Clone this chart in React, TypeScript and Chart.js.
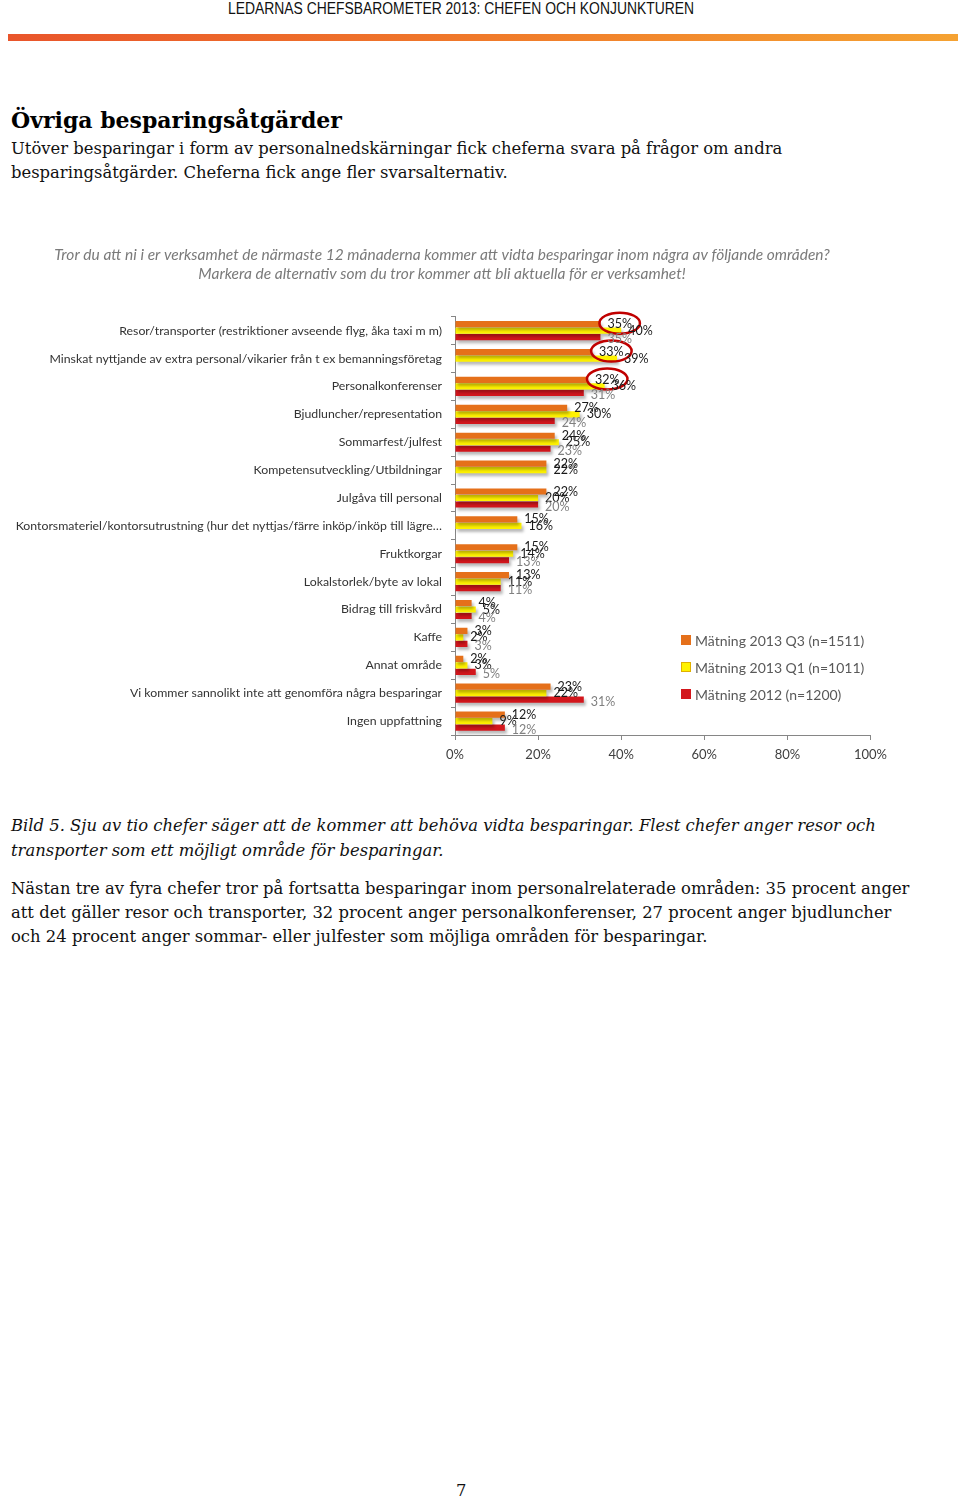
import React, { useEffect, useRef } from "react";
import { Chart, registerables } from "chart.js";

Chart.register(...registerables);

const categories = [
  "Resor/transporter (restriktioner avseende flyg, åka taxi m m)",
  "Minskat nyttjande av extra personal/vikarier från t ex bemanningsföretag",
  "Personalkonferenser",
  "Bjudluncher/representation",
  "Sommarfest/julfest",
  "Kompetensutveckling/Utbildningar",
  "Julgåva till personal",
  "Kontorsmateriel/kontorsutrustning (hur det nyttjas/färre inköp/inköp till lägre…",
  "Fruktkorgar",
  "Lokalstorlek/byte av lokal",
  "Bidrag till friskvård",
  "Kaffe",
  "Annat område",
  "Vi kommer sannolikt inte att genomföra några besparingar",
  "Ingen uppfattning",
];

const seriesNames = [
  "Mätning 2013 Q3 (n=1511)",
  "Mätning 2013 Q1 (n=1011)",
  "Mätning 2012 (n=1200)",
];

const q3Values = [35, 33, 32, 27, 24, 22, 22, 15, 15, 13, 4, 3, 2, 23, 12];
const q1Values = [40, 39, 36, 30, 25, 22, 20, 16, 14, 11, 5, 2, 3, 22, 9];
const y2012Values: (number | null)[] = [35, null, 31, 24, 23, null, 20, null, 13, 11, 4, 3, 5, 31, 12];

const highlightedQ3 = [0, 1, 2];

const xTicks = [0, 20, 40, 60, 80, 100];

const colors = ["#E5701A", "#FFF200", "#D3161C"];
const labelColors = ["#1a1a1a", "#1a1a1a", "#808080"];

const chartTitle = [
  "Tror du att ni i er verksamhet de närmaste 12 månaderna kommer att vidta besparingar inom några av följande områden?",
  "Markera de alternativ som du tror kommer att bli aktuella för er verksamhet!",
];

const FONT = "Lato, 'Open Sans', sans-serif";

const shadowPlugin = {
  id: "barShadow",
  beforeDatasetDraw(chart: any) {
    const ctx = chart.ctx;
    ctx.save();
    ctx.shadowColor = "rgba(0,0,0,0.28)";
    ctx.shadowBlur = 3;
    ctx.shadowOffsetX = 2;
    ctx.shadowOffsetY = 3;
  },
  afterDatasetDraw(chart: any) {
    chart.ctx.restore();
  },
};

const labelPlugin = {
  id: "valueLabels",
  afterDatasetsDraw(chart: any) {
    const ctx = chart.ctx;
    ctx.save();
    ctx.font = `12.5px ${FONT}`;
    ctx.textBaseline = "middle";
    ctx.textAlign = "left";
    chart.data.datasets.forEach((ds: any, di: number) => {
      const meta = chart.getDatasetMeta(di);
      meta.data.forEach((el: any, i: number) => {
        const v = ds.data[i];
        if (v === null || v === undefined) return;
        const text = `${v}%`;
        const x = el.x + 7;
        const y = el.y + (di === 2 ? 2 : 0);
        ctx.fillStyle = labelColors[di];
        ctx.fillText(text, x, y);
        if (di === 0 && highlightedQ3.includes(i)) {
          const w = ctx.measureText(text).width;
          ctx.beginPath();
          ctx.strokeStyle = "#C00000";
          ctx.lineWidth = 2.5;
          ctx.ellipse(x + w / 2, y - 1, w / 2 + 8, 10.5, 0, 0, Math.PI * 2);
          ctx.stroke();
        }
      });
    });
    ctx.restore();
  },
};

function BarChart() {
  const ref = useRef<HTMLCanvasElement | null>(null);
  useEffect(() => {
    if (!ref.current) return;
    const chart = new Chart(ref.current, {
      type: "bar",
      data: {
        labels: categories,
        datasets: [
          { label: seriesNames[0], data: q3Values, backgroundColor: colors[0] },
          { label: seriesNames[1], data: q1Values, backgroundColor: colors[1] },
          { label: seriesNames[2], data: y2012Values, backgroundColor: colors[2] },
        ],
      },
      options: {
        indexAxis: "y",
        animation: false,
        responsive: false,
        maintainAspectRatio: false,
        layout: { padding: { left: 0, right: 20, top: 0, bottom: 0 } },
        datasets: { bar: { categoryPercentage: 0.7, barPercentage: 0.95 } },
        plugins: {
          legend: { display: false },
          tooltip: { enabled: false },
          title: {
            display: true,
            text: chartTitle,
            color: "#7a7a7a",
            font: { family: FONT, size: 15.5, style: "italic", weight: "normal", lineHeight: 1.25 },
            padding: { top: 5, bottom: 33 },
          },
        },
        scales: {
          x: {
            min: 0,
            max: 100,
            afterBuildTicks(scale: any) {
              scale.ticks = xTicks.map((v) => ({ value: v }));
            },
            afterFit(scale: any) {
              scale.height = 35;
            },
            ticks: {
              callback: (v: any) => `${v}%`,
              color: "#404040",
              font: { family: FONT, size: 13 },
              padding: 7,
            },
            grid: { display: true, drawOnChartArea: false, drawTicks: true, tickLength: 5, color: "#868686" },
            border: { display: true, color: "#868686" },
          },
          y: {
            afterFit(scale: any) {
              scale.width = 445;
            },
            ticks: {
              color: "#333333",
              font: { family: FONT, size: 12.3 },
              padding: 9,
              autoSkip: false,
            },
            grid: { display: true, offset: true, drawOnChartArea: false, drawTicks: true, tickLength: 4, color: "#868686" },
            border: { display: true, color: "#868686" },
          },
        },
      },
      plugins: [shadowPlugin, labelPlugin],
    } as any);
    return () => chart.destroy();
  }, []);
  return <canvas ref={ref} width={884} height={530} style={{ position: "absolute", left: 10, top: 240 }} />;
}

const legendTop = [640, 667, 694];

export default function App() {
  const serif = "'DejaVu Serif', serif";
  const line = (top: number, text: string, extra: any = {}) => (
    <div style={{ position: "absolute", left: 11, top, whiteSpace: "nowrap", fontFamily: serif, fontSize: 16.4, color: "#111", lineHeight: "20px", ...extra }}>
      {text}
    </div>
  );
  return (
    <div style={{ position: "absolute", left: 0, top: 0, width: 960, height: 1500, background: "#fff", overflow: "hidden" }}>
      <div style={{ position: "absolute", left: 0, width: 922, top: -1, textAlign: "center", fontFamily: "'Liberation Sans', Arial, sans-serif", fontSize: 16, color: "#111", lineHeight: "20px", whiteSpace: "nowrap", transform: "scaleX(0.868)", transformOrigin: "461px 0" }}>
        LEDARNAS CHEFSBAROMETER 2013: CHEFEN OCH KONJUNKTUREN
      </div>
      <div style={{ position: "absolute", left: 8, top: 34, width: 950, height: 7, background: "linear-gradient(to right, #E9552B, #F07A2A 50%, #F5A232)" }} />
      <div style={{ position: "absolute", left: 11, top: 106, whiteSpace: "nowrap", fontFamily: serif, fontWeight: "bold", fontSize: 22, color: "#000", lineHeight: "28px" }}>
        Övriga besparingsåtgärder
      </div>
      {line(139, "Utöver besparingar i form av personalnedskärningar fick cheferna svara på frågor om andra")}
      {line(163, "besparingsåtgärder. Cheferna fick ange fler svarsalternativ.")}
      <BarChart />
      {seriesNames.map((name, i) => (
        <div key={name} style={{ position: "absolute", left: 681, top: legendTop[i] - 9, height: 18, display: "flex", alignItems: "center", whiteSpace: "nowrap" }}>
          <span style={{ display: "inline-block", width: 10, height: 10, background: colors[i], marginRight: 4, border: i === 1 ? "1px solid #E0B000" : "none", boxSizing: "border-box" }} />
          <span style={{ fontFamily: FONT, fontSize: 14, color: "#595959" }}>{name}</span>
        </div>
      ))}
      {line(816, "Bild 5. Sju av tio chefer säger att de kommer att behöva vidta besparingar. Flest chefer anger resor och", { fontStyle: "italic" })}
      {line(841, "transporter som ett möjligt område för besparingar.", { fontStyle: "italic" })}
      {line(879, "Nästan tre av fyra chefer tror på fortsatta besparingar inom personalrelaterade områden: 35 procent anger")}
      {line(903, "att det gäller resor och transporter, 32 procent anger personalkonferenser, 27 procent anger bjudluncher")}
      {line(927, "och 24 procent anger sommar- eller julfester som möjliga områden för besparingar.")}
      <div style={{ position: "absolute", left: 456, top: 1481, fontFamily: serif, fontSize: 16.4, color: "#111", lineHeight: "20px" }}>7</div>
    </div>
  );
}
